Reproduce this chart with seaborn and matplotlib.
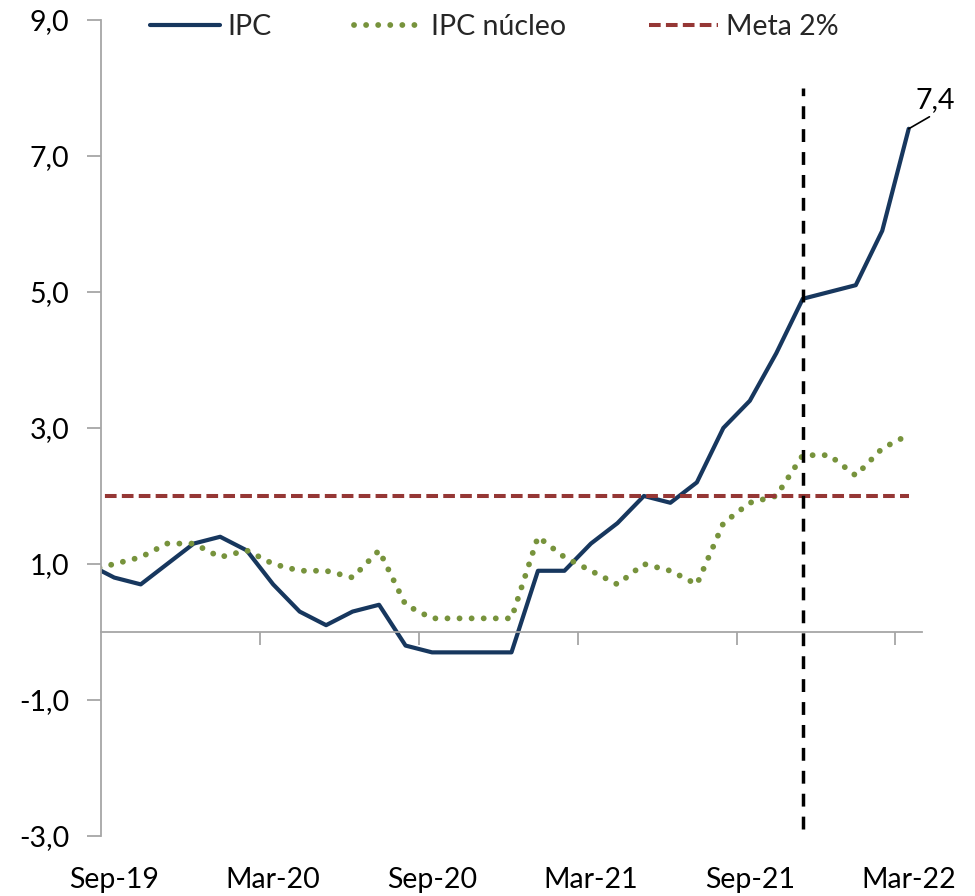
import numpy as np
import pandas as pd
import matplotlib.pyplot as plt
import seaborn as sns

# monthly data, Aug-19 .. Mar-22 (Aug-19 only feeds the clipped first segment)
months = pd.date_range('2019-08-01', '2022-03-01', freq='MS')
ipc = [1.0, 0.8, 0.7, 1.0, 1.3, 1.4, 1.2, 0.7, 0.3, 0.1, 0.3, 0.4, -0.2, -0.3, -0.3, -0.3,
       -0.3, 0.9, 0.9, 1.3, 1.6, 2.0, 1.9, 2.2, 3.0, 3.4, 4.1, 4.9, 5.0, 5.1, 5.9, 7.4]
ipc_nucleo = [0.9, 1.0, 1.1, 1.3, 1.3, 1.1, 1.2, 1.0, 0.9, 0.9, 0.8, 1.2, 0.4, 0.2, 0.2, 0.2,
              0.2, 1.4, 1.1, 0.9, 0.7, 1.0, 0.9, 0.7, 1.6, 1.9, 2.0, 2.6, 2.6, 2.3, 2.7, 2.9]
meta = [2.0] * len(months)

tick_labels = ['Sep-19', 'Mar-20', 'Sep-20', 'Mar-21', 'Sep-21', 'Mar-22']
y_ticks = [-3, -1, 1, 3, 5, 7, 9]
vline_month = 'Nov-21'
vline_range = (-2.9, 8.0)
last_label = 7.4

df = pd.DataFrame({'month': months.strftime('%b-%y'), 'ipc': ipc,
                   'nucleo': ipc_nucleo, 'meta': meta})
df['pos'] = np.arange(len(df)) - 1  # Sep-19 -> 0

sns.set_theme(style='white')
plt.rcParams['font.family'] = ['Lato', 'DejaVu Sans']

blue = '#17375E'
green = '#77933C'
red = '#953735'
grey = '#A6A6A6'
fs = 20.5

fig = plt.figure(figsize=(9.75, 8.96), dpi=100)
ax = fig.add_axes([0.1036, 0.067, 0.842, 0.9107])

sns.lineplot(data=df, x='pos', y='ipc', ax=ax, color=blue, lw=3, label='IPC')
sns.lineplot(data=df, x='pos', y='nucleo', ax=ax, color=green, lw=4.2,
             linestyle=(0, (0.01, 2.06)), dash_capstyle='round', label='IPC núcleo')
sns.lineplot(data=df, x='pos', y='meta', ax=ax, color=red, lw=2.9,
             linestyle=(0, (2.9, 1.3)), label='Meta 2%')

vx = df.loc[df.month == vline_month, 'pos'].iloc[0]
ax.vlines(vx, vline_range[0], vline_range[1], color='black', lw=2.5,
          linestyles=[(0, (3.7, 2.9))])

ax.set_xlim(-0.5, 30.5)
ax.set_ylim(-3, 9)
ax.set_xlabel('')
ax.set_ylabel('')

# x axis line sits at zero with ticks on the category boundaries
ax.spines['bottom'].set_position(('data', 0))
ax.spines['bottom'].set_color(grey)
ax.spines['bottom'].set_linewidth(1.3)
ax.spines['left'].set_color(grey)
ax.spines['left'].set_linewidth(1.3)
ax.spines['top'].set_visible(False)
ax.spines['right'].set_visible(False)

label_pos = df.loc[df.month.isin(tick_labels), 'pos'].values
ax.set_xticks(label_pos[1:] - 0.5)
ax.tick_params(axis='x', which='both', bottom=True, direction='out', length=9,
               width=1.3, color=grey, labelbottom=False)

sec = ax.secondary_xaxis('bottom')
sec.set_xticks(label_pos, tick_labels)
sec.tick_params(length=0, pad=22, labelsize=fs, labelcolor='black')
sec.spines['bottom'].set_visible(False)

ax.set_yticks(y_ticks, [f'{v:.1f}'.replace('.', ',') for v in y_ticks])
ax.tick_params(axis='y', left=True, direction='out', length=10, width=1.3,
               color=grey, pad=13, labelsize=fs, labelcolor='black')

last = df.iloc[-1]
ax.annotate(f'{last_label:.1f}'.replace('.', ','), xy=(last.pos, last.ipc),
            xytext=(19, 11), textcoords='offset points', ha='center', va='bottom',
            fontsize=fs, color='black',
            arrowprops=dict(arrowstyle='-', color='black', lw=1.2,
                            shrinkA=0, shrinkB=0, relpos=(0.5, 0)),
            annotation_clip=False)

ax.legend(loc='center', bbox_to_anchor=(0.507, 0.970), bbox_transform=fig.transFigure,
          ncol=3, frameon=False, fontsize=fs, handlelength=2.45, handletextpad=0.25,
          columnspacing=2.9)

fig.savefig('out.png', dpi=100)
